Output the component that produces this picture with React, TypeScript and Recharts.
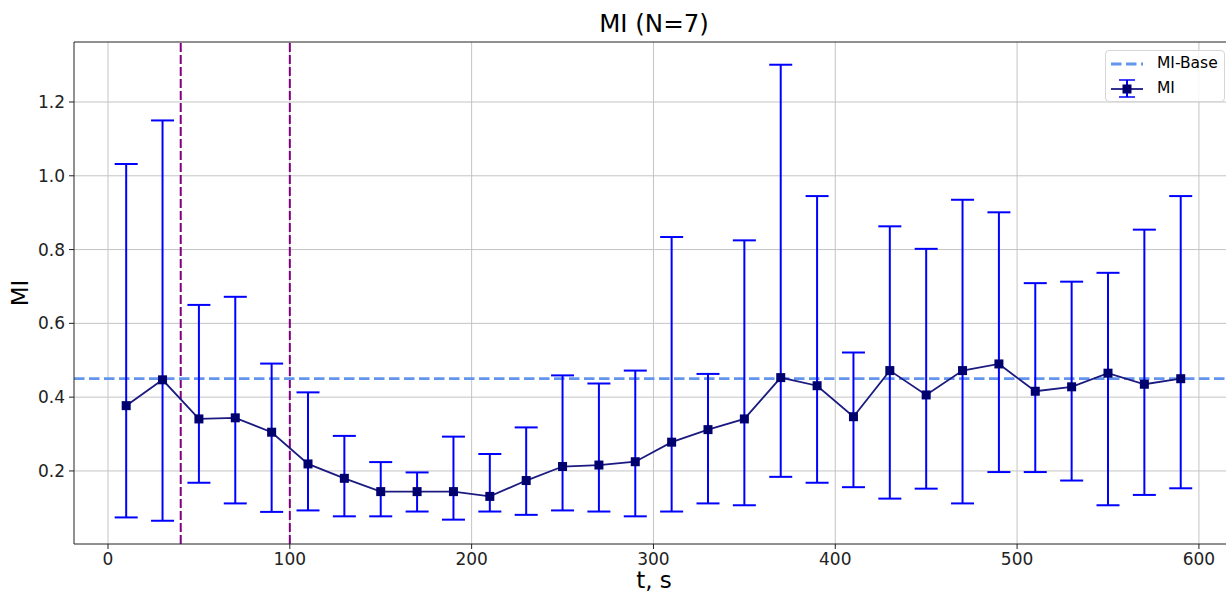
import React from 'react';
import {
    ComposedChart,
    Line,
    ErrorBar,
    XAxis,
    YAxis,
    CartesianGrid,
    ReferenceLine,
    Legend,
} from 'recharts';

// time points (s)
const times = [10, 30, 50, 70, 90, 110, 130, 150, 170, 190, 210, 230, 250, 270, 290, 310, 330, 350, 370, 390, 410, 430, 450, 470, 490, 510, 530, 550, 570, 590];
// mean MI per time point
const means = [0.377, 0.447, 0.341, 0.344, 0.305, 0.219, 0.180, 0.144, 0.144, 0.144, 0.131, 0.174, 0.212, 0.216, 0.225, 0.278, 0.312, 0.341, 0.453, 0.431, 0.347, 0.472, 0.406, 0.472, 0.490, 0.416, 0.428, 0.465, 0.435, 0.450];
// lower and upper ends of the error bars
const lows = [0.074, 0.065, 0.168, 0.112, 0.089, 0.093, 0.077, 0.077, 0.090, 0.068, 0.090, 0.081, 0.093, 0.090, 0.077, 0.090, 0.112, 0.107, 0.184, 0.168, 0.156, 0.125, 0.152, 0.112, 0.197, 0.197, 0.174, 0.107, 0.135, 0.153];
const highs = [1.032, 1.150, 0.650, 0.672, 0.491, 0.413, 0.295, 0.224, 0.196, 0.293, 0.246, 0.318, 0.459, 0.437, 0.472, 0.834, 0.463, 0.825, 1.301, 0.945, 0.521, 0.863, 0.802, 0.935, 0.901, 0.709, 0.713, 0.737, 0.854, 0.945];

const baseValue = 0.45;
const markerTimes = [40, 100];
const xTicks = [0, 100, 200, 300, 400, 500, 600];
const yTicks = [0.2, 0.4, 0.6, 0.8, 1.0, 1.2];
const xDomain = [-18.7, 614.9];
const yDomain = [0.002, 1.3626];

const data = times.map((t, i) => ({
    t,
    mean: means[i],
    err: [+(means[i] - lows[i]).toFixed(3), +(highs[i] - means[i]).toFixed(3)],
}));

const FONT = '"DejaVu Sans", sans-serif';
const W = 1226;
const H = 591;

// carré plein pour les points
const SquareDot = (props: any) => {
    const { cx, cy, index } = props;
    if (cx == null || cy == null) return <g key={`d-${index}`} />;
    return <rect key={`d-${index}`} x={cx - 4.5} y={cy - 4.5} width={9} height={9} fill="#00006e" />;
};

const renderLegend = () => (
    <div
        style={{
            position: 'relative',
            width: 120,
            height: 52,
            boxSizing: 'border-box',
            border: '1px solid #d6d6d6',
            borderRadius: 4,
            background: 'rgba(255,255,255,0.85)',
            fontFamily: FONT,
            fontSize: 15.5,
            color: '#000',
        }}
    >
        <svg width={50} height={52} style={{ position: 'absolute', left: 0, top: 0 }}>
            <line x1={5} y1={13} x2={37} y2={13} stroke="#6495ED" strokeWidth={2.8} strokeDasharray="10.5 4.5" />
            <line x1={5} y1={38} x2={37} y2={38} stroke="#1a1a80" strokeWidth={1.8} />
            <line x1={21} y1={29} x2={21} y2={46} stroke="#0000ff" strokeWidth={2} />
            <line x1={13} y1={29} x2={29} y2={29} stroke="#0000ff" strokeWidth={1.5} />
            <line x1={13} y1={46} x2={29} y2={46} stroke="#0000ff" strokeWidth={1.5} />
            <rect x={16.5} y={33.5} width={9} height={9} fill="#00006e" />
        </svg>
        <span style={{ position: 'absolute', left: 51, top: 3, lineHeight: '18px' }}>MI-Base</span>
        <span style={{ position: 'absolute', left: 51, top: 28, lineHeight: '18px' }}>MI</span>
    </div>
);

export default function App() {
    return (
        <div style={{ position: 'absolute', left: 0, top: 0, width: W, height: H, background: '#fff', fontFamily: FONT }}>
            <div
                style={{
                    position: 'absolute',
                    left: 654,
                    top: 12,
                    transform: 'translateX(-50%)',
                    fontSize: 24.5,
                    lineHeight: 1,
                    whiteSpace: 'nowrap',
                    color: '#000',
                }}
            >
                MI (N=7)
            </div>
            <div
                style={{
                    position: 'absolute',
                    left: 20,
                    top: 293,
                    transform: 'translate(-50%, -50%) rotate(-90deg)',
                    fontSize: 23,
                    lineHeight: 1,
                    whiteSpace: 'nowrap',
                    color: '#000',
                }}
            >
                MI
            </div>
            <div
                style={{
                    position: 'absolute',
                    left: 654,
                    top: 569,
                    transform: 'translateX(-50%)',
                    fontSize: 23,
                    lineHeight: 1,
                    whiteSpace: 'nowrap',
                    color: '#000',
                }}
            >
                t, s
            </div>
            <ComposedChart
                width={W}
                height={H}
                data={data}
                margin={{ top: 42, right: 0, bottom: 0, left: 0 }}
                style={{ position: 'absolute', left: 0, top: 0 }}
            >
                <CartesianGrid stroke="#c4c4c4" strokeWidth={1} horizontalValues={yTicks} verticalValues={xTicks} />
                <XAxis
                    dataKey="t"
                    type="number"
                    domain={xDomain}
                    ticks={xTicks}
                    allowDataOverflow
                    height={47}
                    tickSize={5}
                    tickMargin={4}
                    stroke="#222"
                    tick={{ fill: '#222', fontSize: 17, fontFamily: FONT }}
                />
                <YAxis
                    type="number"
                    domain={yDomain}
                    ticks={yTicks}
                    allowDataOverflow
                    width={74}
                    tickSize={5}
                    tickMargin={4}
                    stroke="#222"
                    tickFormatter={(v: number) => v.toFixed(1)}
                    tick={{ fill: '#222', fontSize: 17, fontFamily: FONT }}
                />
                {/* bord supérieur du cadre */}
                <ReferenceLine y={yDomain[1]} stroke="#222" strokeWidth={1.2} />
                {markerTimes.map((x) => (
                    <ReferenceLine key={x} x={x} stroke="#800080" strokeWidth={2} strokeDasharray="9 3" />
                ))}
                <ReferenceLine y={baseValue} stroke="#6495ED" strokeWidth={2.8} strokeDasharray="10.5 4.5" />
                <Line
                    dataKey="mean"
                    stroke="#1a1a80"
                    strokeWidth={1.8}
                    dot={SquareDot}
                    activeDot={false}
                    isAnimationActive={false}
                >
                    <ErrorBar dataKey="err" direction="y" width={11.5} stroke="#0000ff" strokeWidth={2} isAnimationActive={false} />
                </Line>
                <Legend
                    layout="vertical"
                    align="center"
                    verticalAlign="middle"
                    content={renderLegend}
                    wrapperStyle={{ left: 1105, top: 50, width: 121, bottom: 'auto', right: 'auto' }}
                />
            </ComposedChart>
        </div>
    );
}
